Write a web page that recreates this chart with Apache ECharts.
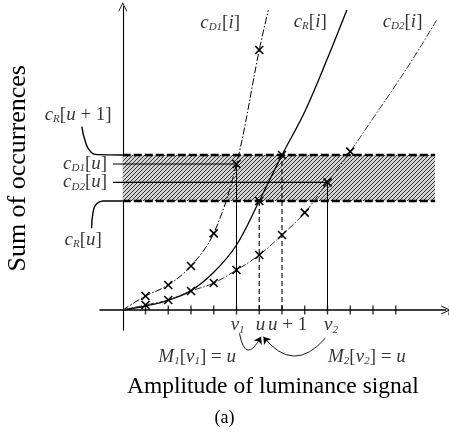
<!DOCTYPE html>
<html><head><meta charset="utf-8">
<script src="https://cdn.jsdelivr.net/npm/echarts@6/dist/echarts.min.js"></script>
<style>html,body{margin:0;padding:0;background:#fff}#c{width:449px;height:433px}</style>
</head><body><div id="c"></div>
<script>
// ---------- data ----------
const iTicks = [1,2,3,4,5,6,7,8,9,10,11,12];
const cD1 = [[0,0],[1,4.2],[2,7.5],[3,13.2],[4,23],[5,43.8],[6,78],[6.4,90]];
const cD1Marks = [1,2,3,4,5,6];
const cR = [[0,0],[1,1.2],[2,2.9],[3,5.8],[4,11.3],[5,19.5],[6,32.7],[7,46.5],[8,59.5],[9,75.5],[9.85,90]];
const cRMarks = [6,7];
const cD2 = [[0,0],[1,1.5],[2,3.0],[3,5.7],[4,8.1],[5,12],[6,16.5],[7,22.5],[8,29.2],[9,38.3],[10,47.5],[11,57.5],[12,67.5],[13,78],[13.8,87]];
const cD2Marks = [1,2,3,4,5,6,7,8,9,10];
const bandLow = 32.7, bandHigh = 46.5, bandEnd = 13.73;
const cD1u = 43.8, cD2u = 38.3;
const v1 = 5, u = 6, u1 = 7, v2 = 9;
const guideStart = -0.43;
const tickLabels = [
  {pos:[5.05,-4.6], text:'{c|v}{s|1}'},
  {pos:[6.05,-4.6], text:'{c|u}'},
  {pos:[7.25,-4.6], text:'{c|u}{n| + 1}'},
  {pos:[9.15,-4.6], text:'{c|v}{s|2}'}
];
const curveLabels = [
  {pos:[4.28,86.1], text:'{c|c}{s|D1}{n|[}{c|i}{n|]}'},
  {pos:[8.24,86.4], text:'{c|c}{s|R}{n|[}{c|i}{n|]}'},
  {pos:[12.3,86.4], text:'{c|c}{s|D2}{n|[}{c|i}{n|]}'}
];
const sideLabels = [
  {pos:[-1.96,58.5], text:'{c|c}{s|R}{n|[}{c|u}{n| + 1]}', align:'center'},
  {pos:[-0.69,cD1u], text:'{c|c}{s|D1}{n|[}{c|u}{n|]}', align:'right'},
  {pos:[-0.69,cD2u], text:'{c|c}{s|D2}{n|[}{c|u}{n|]}', align:'right'},
  {pos:[-1.74,21], text:'{c|c}{s|R}{n|[}{c|u}{n|]}', align:'center'}
];
const mapLabels = [
  {pos:[3.27,-14.1], text:'{c|M}{s|1}{n|[}{c|v}{s|1}{n|] = }{c|u}'},
  {pos:[10.73,-14.1], text:'{c|M}{s|2}{n|[}{c|v}{s|2}{n|] = }{c|u}'}
];
const bracketTop = [[-1.8,55],[-1.62,50],[-1.4,47.4],[-1.1,46.6],[0,46.5]];
const bracketBottom = [[-1.37,24.5],[-1.3,29.5],[-1.12,32],[-0.85,32.7],[0,32.7]];
const arrowM1 = [[5.13,-7],[6.08,-8]];
const arrowM2 = [[8.9,-8.5],[6.18,-8]];

// ---------- layout ----------
const W = 449, H = 433;
const X0 = 122.75, XU = 22.75, Y0 = 310, YU = 10/3;
const xMin = -1, xMax = 14.2, yMin = -6, yMax = 91;
const FONT = 'Liberation Serif';
const rich = {
  c:{fontFamily:FONT, fontStyle:'italic', fontSize:19, color:'#000'},
  n:{fontFamily:FONT, fontSize:19, color:'#000'},
  s:{fontFamily:FONT, fontStyle:'italic', fontSize:11, color:'#000', padding:[9,0,0,0]}
};
const cross = 'path://M0,0L10,10M10,0L0,10';
const chevron = 'path://M0,10L5,0L10,10L9,10L5,2L1,10Z';

// hatch pattern
const pc = document.createElement('canvas'); pc.width = 4; pc.height = 4;
const g = pc.getContext('2d');
g.fillStyle = '#d2d2d2'; g.fillRect(0,0,4,4);
g.strokeStyle = '#333'; g.lineWidth = 1;
g.beginPath(); g.moveTo(-1,5); g.lineTo(5,-1); g.moveTo(-1,1); g.lineTo(1,-1); g.moveTo(3,5); g.lineTo(5,3); g.stroke();

function curve(name, pts, marks, lineStyle) {
  return {type:'line', name, xAxisIndex:0, yAxisIndex:0, smooth:0.35, showAllSymbol:true, z:6,
    data: pts.map(p => ({value:p, symbol: marks.includes(p[0]) ? cross : 'none'})),
    symbolSize:8, itemStyle:{color:'#000', borderColor:'#000', borderWidth:1.6},
    lineStyle: Object.assign({color:'#000'}, lineStyle)};
}
function seg(pts, style, grid) {
  return {type:'line', xAxisIndex:grid||0, yAxisIndex:grid||0, symbol:'none', silent:true, clip:false, z:4,
    data:pts, lineStyle:Object.assign({color:'#000', width:1}, style)};
}
function labels(list) {
  return {type:'scatter', xAxisIndex:1, yAxisIndex:1, symbol:'circle', symbolSize:1, silent:true, z:10,
    itemStyle:{color:'rgba(0,0,0,0)'},
    data: list.map(l => ({value:l.pos, label:{show:true, position:'inside', formatter:l.text, rich, align:l.align||'center', verticalAlign:'middle'}}))};
}
function arrow(pts, curveness) {
  return {type:'lines', coordinateSystem:'cartesian2d', xAxisIndex:1, yAxisIndex:1, silent:true, z:8,
    symbol:['none','arrow'], symbolSize:7,
    lineStyle:{color:'#000', width:0.9, opacity:1, curveness},
    data:[{coords:pts}]};
}

const chart = echarts.init(document.getElementById('c'), null, {renderer:'canvas'});
chart.setOption({
  animation:false,
  backgroundColor:'#fff',
  title:{text:'(a)', left:'center', top:404, textStyle:{fontFamily:FONT, fontSize:18, fontWeight:'normal', color:'#000'}},
  grid:[
    {left:X0+XU*xMin, right:W-(X0+XU*xMax), top:Y0-YU*yMax, bottom:H-(Y0-YU*yMin), containLabel:false, outerBoundsMode:'none'},
    {left:0, right:0, top:0, bottom:0, containLabel:false, outerBoundsMode:'none'}
  ],
  xAxis:[
    {type:'value', gridIndex:0, min:xMin, max:xMax, interval:1, splitLine:{show:false},
     axisLine:{onZero:true, lineStyle:{color:'#000', width:1.6}, symbol:['none',chevron], symbolSize:[9,11]},
     axisTick:{show:false}, axisLabel:{show:false},
     name:'Amplitude of luminance signal', nameLocation:'middle', nameGap:45,
     nameTextStyle:{fontFamily:FONT, fontSize:23.5, color:'#000'}},
    {type:'value', gridIndex:1, min:-X0/XU, max:(W-X0)/XU, show:false}
  ],
  yAxis:[
    {type:'value', gridIndex:0, min:yMin, max:yMax, splitLine:{show:false},
     axisLine:{onZero:true, lineStyle:{color:'#000', width:1.1}, symbol:['none',chevron], symbolSize:[9,12]},
     axisTick:{show:false}, axisLabel:{show:false},
     name:'Sum of occurrences', nameLocation:'middle', nameGap:69,
     nameTextStyle:{fontFamily:FONT, fontSize:26, color:'#000'}},
    {type:'value', gridIndex:1, min:-(H-Y0)/YU, max:Y0/YU, show:false}
  ],
  series:[
    // band
    {type:'line', xAxisIndex:0, yAxisIndex:0, symbol:'none', data:[[0,bandHigh],[bandEnd,bandHigh]], z:3,
     lineStyle:{color:'#000', width:2.6, type:[8,3]},
     markArea:{silent:true, itemStyle:{color:{image:pc, repeat:'repeat'}},
       data:[[{coord:[0,bandLow]},{coord:[bandEnd,bandHigh]}]]}},
    seg([[0,bandLow],[bandEnd,bandLow]], {width:2.6, type:[8,3]}),
    // ticks
    {type:'scatter', xAxisIndex:0, yAxisIndex:0, symbol:'rect', symbolSize:[1.4,9], silent:true, z:5,
     itemStyle:{color:'#000'}, data:iTicks.map(i => [i,0])},
    // guides
    seg([[v1,0],[v1,cD1u]], {width:1}),
    seg([[u,0],[u,bandLow]], {width:1.1, type:[5,3]}),
    seg([[u1,0],[u1,bandHigh]], {width:1.1, type:[5,3]}),
    seg([[v2,0],[v2,cD2u]], {width:1}),
    seg([[guideStart,cD1u],[v1,cD1u]], {width:1.1}),
    seg([[guideStart,cD2u],[v2,cD2u]], {width:1.1}),
    // curves
    curve('cD1', cD1, cD1Marks, {width:1, type:[7,2,1.5,2]}),
    curve('cR', cR, cRMarks, {width:1.3}),
    curve('cD2', cD2, cD2Marks, {width:1, type:[7,2,1.5,2], color:'#333'}),
    // brackets (overlay grid)
    Object.assign(seg(bracketTop, {width:1.4}, 1), {smooth:0.5}),
    Object.assign(seg(bracketBottom, {width:1.4}, 1), {smooth:0.5}),
    // mapping arrows
    arrow(arrowM1, -1.4),
    arrow(arrowM2, 0.6),
    labels(tickLabels),
    labels(curveLabels),
    labels(sideLabels),
    labels(mapLabels),
    labels([{pos:[14.25,0], text:'{c|i}', align:'left'}])
  ]
});
</script></body></html>
